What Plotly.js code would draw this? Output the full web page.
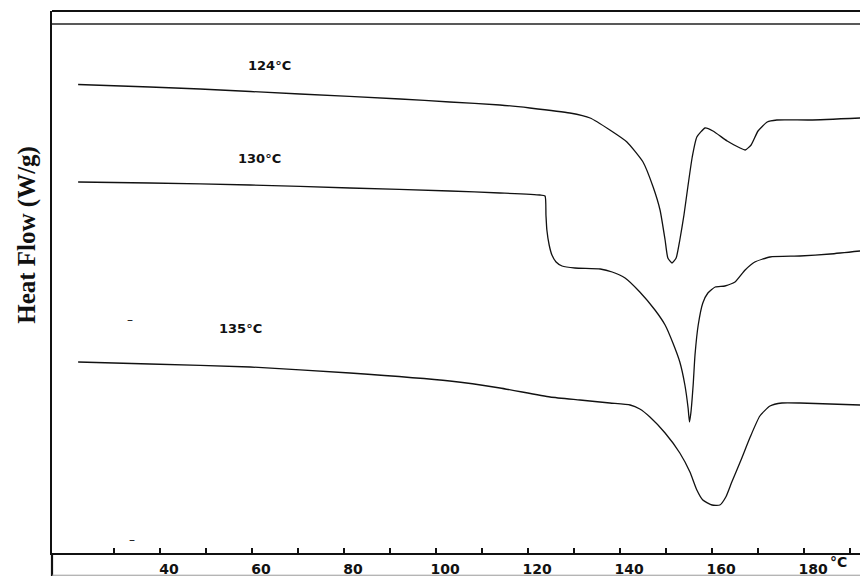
<!DOCTYPE html>
<html>
<head>
<meta charset="utf-8">
<script src="https://cdn.plot.ly/plotly-3.0.1.min.js"></script>
<style>html,body{margin:0;padding:0;background:#fff}#chart{width:860px;height:576px}</style>
</head>
<body>
<div id="chart"></div>
<script>
// Temperature (°C) and heat flow (arbitrary units, larger = higher on chart)
const t124 = [22.2, 37.8, 48.7, 70.4, 92.2, 103.0, 113.9, 120.4, 129.1, 133.5, 137.8, 141.5, 145.0, 147.2, 148.7, 149.8, 150.4, 151.3, 152.2, 153.0, 153.9, 154.8, 155.7, 156.7, 158.5, 160.2, 163.3, 166.1, 167.2, 168.5, 170.0, 172.0, 174.1, 181.3, 192.2];
const hf124 = [468.5, 466, 464, 459, 454, 451, 448, 445, 440, 435, 423, 411, 391, 366, 343, 313, 295, 290, 295, 313, 338, 368, 396, 416, 425, 422, 412, 405, 403, 408, 422, 431, 433, 433, 435];

const t130 = [22.2, 37.8, 59.6, 81.3, 103.0, 113.9, 122.6, 123.7, 123.9, 124.1, 124.6, 125.2, 126.1, 127.4, 130.2, 135.7, 138.3, 141.1, 144.3, 147.6, 149.8, 151.5, 153.0, 154.1, 154.8, 155.1, 155.4, 155.9, 156.3, 157.0, 158.0, 159.1, 160.7, 162.8, 165.0, 167.2, 169.3, 172.6, 179.1, 185.7, 192.2];
const hf130 = [371, 370, 368, 365, 362, 360, 358, 357, 338, 323, 308, 298, 291, 287, 285, 284, 281, 275, 261, 243, 228, 210, 191, 168, 145, 131, 140, 168, 198, 228, 250, 260, 266, 267, 271, 283, 291, 296, 297, 299, 302];

const t135 = [22.2, 37.8, 59.6, 81.3, 103.0, 113.9, 124.8, 131.3, 137.8, 142.2, 144.3, 146.5, 149.8, 153.0, 155.2, 156.7, 158.0, 160.0, 161.7, 163.0, 164.3, 166.3, 168.3, 170.4, 172.6, 175.2, 179.1, 185.7, 192.2];
const hf135 = [191, 189, 186, 180, 172, 165, 156, 153, 150, 148, 144, 136, 120, 100, 81, 63, 53, 48, 48, 56, 71, 93, 116, 137, 147, 150, 150, 149, 148];

const curveLabels = ['124°C', '130°C', '135°C'];
const labelT = [63.9, 61.7, 57.6];
const labelHF = [488, 395, 225];

const xTickVals = [40, 60, 80, 100, 120, 140, 160, 180];
const xTickText = ['40', '60', '80', '100', '120', '140', '160', '180'];
const xMinorVals = [30, 50, 70, 90, 110, 130, 150, 170, 190];

const lineStyle = {color: '#111', width: 1.3, shape: 'spline', smoothing: 0.5};
const data = [
  {x: t124, y: hf124, mode: 'lines', line: lineStyle, name: curveLabels[0]},
  {x: t130, y: hf130, mode: 'lines', line: lineStyle, name: curveLabels[1]},
  {x: t135, y: hf135, mode: 'lines', line: lineStyle, name: curveLabels[2]}
];

const annotations = curveLabels.map((s, i) => ({
  x: labelT[i], y: labelHF[i], xref: 'x', yref: 'y', text: s, showarrow: false,
  xanchor: 'center', yanchor: 'middle',
  font: {family: 'DejaVu Sans', size: 13, color: '#111', weight: 'bold'}
}));
annotations.push({
  xref: 'paper', yref: 'paper', x: -0.031, y: 0.587, text: 'Heat Flow (W/g)', textangle: -90,
  showarrow: false, xanchor: 'center', yanchor: 'middle',
  font: {family: 'Liberation Serif', size: 25, color: '#111', weight: 'bold'}
});
annotations.push({
  xref: 'paper', yref: 'paper', x: 0.973, y: -0.017, text: '°C', showarrow: false,
  xanchor: 'center', yanchor: 'middle',
  font: {family: 'DejaVu Sans', size: 14, color: '#111', weight: 'bold'}
});
annotations.push({xref: 'paper', yref: 'paper', x: 0.0965, y: 0.430, text: '–', showarrow: false, xanchor: 'center', yanchor: 'middle', font: {family: 'DejaVu Sans', size: 12, color: '#111'}});
annotations.push({xref: 'paper', yref: 'paper', x: 0.0985, y: 0.024, text: '–', showarrow: false, xanchor: 'center', yanchor: 'middle', font: {family: 'DejaVu Sans', size: 12, color: '#111'}});

const layout = {
  width: 860, height: 576,
  margin: {l: 52, r: 0, t: 11, b: 23},
  paper_bgcolor: '#fff', plot_bgcolor: '#fff',
  showlegend: false,
  xaxis: {
    range: [16.52, 192.17], tickmode: 'array', tickvals: xTickVals, ticktext: xTickText,
    ticks: 'inside', ticklen: 5, tickwidth: 1.5, tickcolor: '#111',
    minor: {tickmode: 'array', tickvals: xMinorVals, ticks: 'inside', ticklen: 5, tickwidth: 1.2, tickcolor: '#111', showgrid: false},
    showline: true, linecolor: '#111', linewidth: 1.5, showgrid: false, zeroline: false,
    tickfont: {family: 'DejaVu Sans', size: 14, color: '#111', weight: 'bold'},
    ticklabelshift: 9, ticklabelstandoff: 3
  },
  yaxis: {
    range: [0, 542], showline: true, linecolor: '#111', linewidth: 2.2,
    showticklabels: false, ticks: '', showgrid: false, zeroline: false
  },
  shapes: [
    {type: 'line', xref: 'paper', yref: 'paper', x0: 0, x1: 1, y0: 1, y1: 1, line: {color: '#111', width: 2.2}},
    {type: 'line', xref: 'paper', yref: 'paper', x0: 0, x1: 1, y0: 0.976, y1: 0.976, line: {color: '#222', width: 1.5}},
    {type: 'line', xref: 'paper', yref: 'paper', x0: 0, x1: 0, y0: 0, y1: -0.045, line: {color: '#111', width: 2.2}},
    {type: 'line', xref: 'paper', yref: 'paper', x0: 0, x1: 1, y0: -0.041, y1: -0.041, line: {color: '#999', width: 1}}
  ],
  annotations: annotations
};

Plotly.newPlot('chart', data, layout, {staticPlot: true, displayModeBar: false});
</script>
</body>
</html>
